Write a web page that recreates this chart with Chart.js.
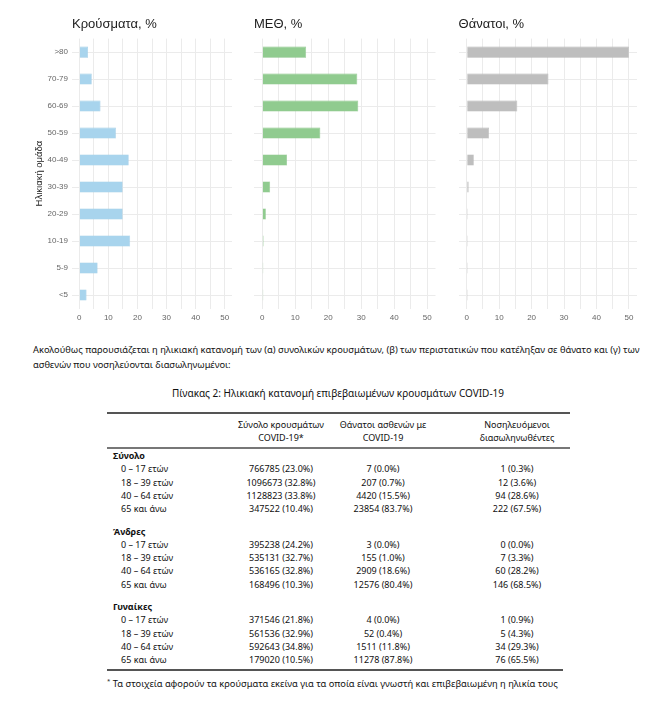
<!DOCTYPE html>
<html>
<head>
<meta charset="utf-8">
<script src="https://cdn.jsdelivr.net/npm/chart.js@4.4.1/dist/chart.umd.min.js"></script>
<style>
  body { margin: 0; background: #fff; width: 650px; height: 715px; position: relative; overflow: hidden;
         font-family: "Noto Sans", sans-serif; color: #1a1a1a; }
  .box { position: absolute; top: 0; height: 330px; }
  #box1 { left: 0; width: 240px; }
  #box2 { left: 240px; width: 205px; }
  #box3 { left: 445px; width: 205px; }
  #para { position: absolute; left: 33px; top: 342px; font-size: 9.3px; line-height: 15px; white-space: nowrap; color: #111; }
  #caption { position: absolute; left: 0; width: 676px; top: 386px; text-align: center; font-size: 10px; white-space: nowrap; color: #111; }
  .rule { position: absolute; left: 107px; background: #555; }
  .row { position: absolute; left: 0; width: 650px; height: 14px; line-height: 14px; font-size: 9px; white-space: nowrap; color: #111; }
  .row span { position: absolute; transform: translateX(-50%); }
  .row span.lab { transform: none; left: 121px; }
  .row span.grp { transform: none; left: 113px; font-weight: bold; }
  #foot { position: absolute; left: 107px; top: 677px; font-size: 9.3px; white-space: nowrap; color: #111; }
</style>
</head>
<body>
<div class="box" id="box1"><canvas id="c1"></canvas></div>
<div class="box" id="box2"><canvas id="c2"></canvas></div>
<div class="box" id="box3"><canvas id="c3"></canvas></div>

<div id="para">Ακολούθως παρουσιάζεται η ηλικιακή κατανομή των (α) συνολικών κρουσμάτων, (β) των περιστατικών που κατέληξαν σε θάνατο και (γ) των<br>ασθενών που νοσηλεύονται διασωληνωμένοι:</div>
<div id="caption">Πίνακας 2: Ηλικιακή κατανομή επιβεβαιωμένων κρουσμάτων COVID-19</div>
<div class="rule" style="top:412px;width:463px;height:2px"></div>
<div class="rule" style="top:447px;width:463px;height:1.5px;background:#777"></div>
<div class="rule" style="top:669px;width:456px;height:2px"></div>
<div id="tbl"></div>
<div id="foot"><sup style="font-size:6px">*</sup> Τα στοιχεία αφορούν τα κρούσματα εκείνα για τα οποία είναι γνωστή και επιβεβαιωμένη η ηλικία τους</div>

<script>
// age groups, top to bottom
var ageGroups = ['>80', '70-79', '60-69', '50-59', '40-49', '30-39', '20-29', '10-19', '5-9', '<5'];

var casesPct  = [3.0, 4.3, 7.3, 12.6, 17.0, 14.9, 14.9, 17.5, 6.3, 2.5];
var icuPct    = [13.3, 28.8, 29.1, 17.6, 7.5, 2.4, 1.1, 0.4, 0.1, 0.3];
var deathsPct = [50.0, 25.2, 15.6, 6.9, 2.2, 0.6, 0.3, 0.2, 0.05, 0.1];

var xTicks = [0, 5, 10, 15, 20, 25, 30, 35, 40, 45, 50];

// table
var tableHeaders = [['Σύνολο κρουσμάτων', 'COVID-19*'], ['Θάνατοι ασθενών με', 'COVID-19'], ['Νοσηλευόμενοι', 'διασωληνωθέντες']];
var tableGroups = ['Σύνολο', 'Άνδρες', 'Γυναίκες'];
var ageBands = ['0 – 17 ετών', '18 – 39 ετών', '40 – 64 ετών', '65 και άνω'];

var totalCases  = ['766785 (23.0%)', '1096673 (32.8%)', '1128823 (33.8%)', '347522 (10.4%)'];
var totalDeaths = ['7 (0.0%)', '207 (0.7%)', '4420 (15.5%)', '23854 (83.7%)'];
var totalIntub  = ['1 (0.3%)', '12 (3.6%)', '94 (28.6%)', '222 (67.5%)'];
var menCases    = ['395238 (24.2%)', '535131 (32.7%)', '536165 (32.8%)', '168496 (10.3%)'];
var menDeaths   = ['3 (0.0%)', '155 (1.0%)', '2909 (18.6%)', '12576 (80.4%)'];
var menIntub    = ['0 (0.0%)', '7 (3.3%)', '60 (28.2%)', '146 (68.5%)'];
var womenCases  = ['371546 (21.8%)', '561536 (32.9%)', '592643 (34.8%)', '179020 (10.5%)'];
var womenDeaths = ['4 (0.0%)', '52 (0.4%)', '1511 (11.8%)', '11278 (87.8%)'];
var womenIntub  = ['1 (0.9%)', '5 (4.3%)', '34 (29.3%)', '76 (65.5%)'];

var colCenters = [281, 383, 517];

function makeChart(id, values, color, border, title, yWidth, rightPad, showY) {
  return new Chart(document.getElementById(id), {
    type: 'bar',
    data: {
      labels: ageGroups,
      datasets: [{
        data: values,
        backgroundColor: color,
        borderColor: border,
        borderWidth: 0.6,
        minBarLength: 1,
        barPercentage: 0.41,
        categoryPercentage: 1
      }]
    },
    options: {
      indexAxis: 'y',
      responsive: true,
      maintainAspectRatio: false,
      animation: false,
      layout: { padding: { left: 0, right: rightPad, top: 0, bottom: 0 } },
      plugins: {
        legend: { display: false },
        tooltip: { enabled: false },
        title: {
          display: true,
          text: title,
          align: 'start',
          fullSize: false,
          color: '#222',
          font: { family: 'Liberation Sans', size: 13, weight: 'normal' },
          padding: { top: 17, bottom: 6 }
        }
      },
      scales: {
        x: {
          min: -2.5,
          max: 52.5,
          afterBuildTicks: function (scale) {
            scale.ticks = xTicks.map(v => ({ value: v }));
          },
          afterFit: function (scale) { scale.height = 21.5; },
          grid: { color: '#ebebeb', lineWidth: 1, drawTicks: false },
          border: { display: false },
          ticks: {
            autoSkip: false,
            maxRotation: 0,
            padding: 4,
            color: '#666',
            font: { family: 'Liberation Sans', size: 8 },
            callback: function (v) { return v % 10 === 0 ? v : ''; }
          }
        },
        y: {
          afterFit: function (scale) { scale.width = yWidth; },
          grid: { color: '#ebebeb', lineWidth: 1, drawTicks: false, offset: false },
          border: { display: false },
          ticks: {
            display: showY,
            padding: 4,
            color: '#666',
            font: { family: 'Liberation Sans', size: 8 }
          },
          title: {
            display: showY,
            text: 'Ηλικιακή ομάδα',
            color: '#222',
            font: { family: 'Liberation Sans', size: 9.5 },
            padding: { top: 34, bottom: 0 }
          }
        }
      }
    }
  });
}

makeChart('c1', casesPct, '#a8d4ed', '#9cc9e4', 'Κρούσματα, %', 72, 8, true);
makeChart('c2', icuPct, '#90cb8f', '#86c285', 'ΜΕΘ, %', 14, 9.5, false);
makeChart('c3', deathsPct, '#bebebe', '#b4b4b4', 'Θάνατοι, %', 13.6, 13, false);

// table body
var tbl = document.getElementById('tbl');
function addRow(y, label, cls, cells) {
  var row = document.createElement('div');
  row.className = 'row';
  row.style.top = (y - 7) + 'px';
  var s = document.createElement('span');
  s.className = cls;
  s.textContent = label;
  row.appendChild(s);
  (cells || []).forEach(function (txt, i) {
    var c = document.createElement('span');
    c.style.left = colCenters[i] + 'px';
    c.textContent = txt;
    row.appendChild(c);
  });
  tbl.appendChild(row);
}
addRow(425, '', 'lab', tableHeaders.map(h => h[0]));
addRow(438, '', 'lab', tableHeaders.map(h => h[1]));

var groupCols = [[totalCases, totalDeaths, totalIntub], [menCases, menDeaths, menIntub], [womenCases, womenDeaths, womenIntub]];
tableGroups.forEach(function (g, gi) {
  var y0 = 456 + gi * 75.5;
  addRow(y0, g, 'grp');
  ageBands.forEach(function (band, i) {
    addRow(y0 + 13.3 * (i + 1), band, 'lab', groupCols[gi].map(col => col[i]));
  });
});
</script>
</body>
</html>
